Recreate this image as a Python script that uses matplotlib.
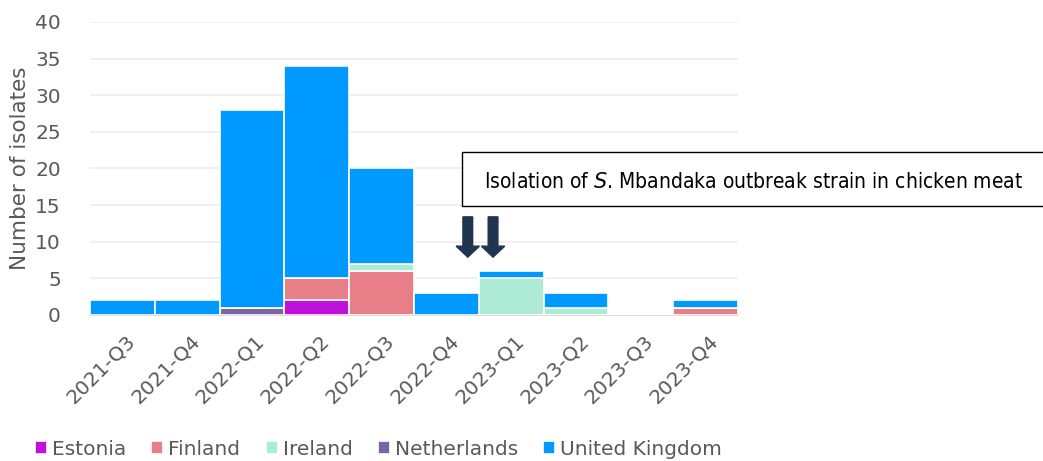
import numpy as np
import matplotlib
matplotlib.use("Agg")
import matplotlib.pyplot as plt
import matplotlib.transforms as mtransforms
from matplotlib.patches import FancyArrow, Rectangle

plt.rcParams['font.family'] = ['DejaVu Sans']

# Dati: isolati per trimestre e paese
quarters = ['2021-Q3', '2021-Q4', '2022-Q1', '2022-Q2', '2022-Q3',
            '2022-Q4', '2023-Q1', '2023-Q2', '2023-Q3', '2023-Q4']
estonia = [0, 0, 0, 2, 0, 0, 0, 0, 0, 0]
finland = [0, 0, 0, 3, 6, 0, 0, 0, 0, 1]
ireland = [0, 0, 0, 0, 1, 0, 5, 1, 0, 0]
netherlands = [0, 0, 1, 0, 0, 0, 0, 0, 0, 0]
united_kingdom = [2, 2, 27, 29, 13, 3, 1, 2, 0, 1]

series = [('Estonia', estonia, '#BF10DC'),
          ('Finland', finland, '#E87E88'),
          ('Ireland', ireland, '#AEEBD4'),
          ('Netherlands', netherlands, '#8064A2'),
          ('United Kingdom', united_kingdom, '#0099FF')]

# Ordine di impilamento (dal basso)
stack_order = ['Netherlands', 'Estonia', 'Finland', 'Ireland', 'United Kingdom']

W, H = 1043, 461
fig = plt.figure(figsize=(W / 100, H / 100), dpi=100)
ax = fig.add_axes([90 / W, 1 - 315 / H, 648 / W, 293 / H])

x = np.arange(len(quarters))
bottom = np.zeros(len(quarters))
lookup = {name: (vals, col) for name, vals, col in series}
handles = {}
for name in stack_order:
    vals, col = lookup[name]
    vals = np.array(vals, dtype=float)
    b = ax.bar(x, vals, width=1.0, bottom=bottom, color=col,
               edgecolor='white', linewidth=1.2, label=name, zorder=3)
    handles[name] = b
    bottom += vals

ax.set_xlim(-0.5, len(quarters) - 0.5)
ax.set_ylim(0, 40)
ax.set_yticks(np.arange(0, 41, 5))
ax.yaxis.grid(True, color='#EDEDED', linewidth=1.2, zorder=0)
ax.set_axisbelow(True)
for s in ['top', 'right', 'left']:
    ax.spines[s].set_visible(False)
ax.spines['bottom'].set_color('#D9D9D9')
ax.spines['bottom'].set_linewidth(1.2)
ax.spines['bottom'].set_zorder(2)

ax.set_xticks(x)
ax.set_xticklabels(quarters, rotation=45, ha='right', rotation_mode='anchor',
                   fontsize=14.5, color='#595959')
ax.tick_params(axis='x', length=0, pad=12)
# piccolo spostamento a destra delle etichette
offset = mtransforms.ScaledTranslation(0.03, 0, fig.dpi_scale_trans)
for lab in ax.get_xticklabels():
    lab.set_transform(lab.get_transform() + offset)
ax.tick_params(axis='y', length=0, labelsize=14.5, labelcolor='#595959', pad=21)
ax.set_ylabel('Number of isolates', fontsize=15.5, color='#595959')
ax.yaxis.set_label_coords(-0.092, 0.5)

# Frecce e riquadro di annotazione
for xa in [5.33, 5.72]:
    arr = FancyArrow(xa, 13.4, 0, -5.5, width=0.15, head_width=0.36,
                     head_length=1.5, length_includes_head=True,
                     color='#1F3550', zorder=5, clip_on=False)
    ax.add_patch(arr)

fig.add_artist(Rectangle((462 / W, 1 - 206 / H), 600 / W, 54 / H,
                         transform=fig.transFigure, facecolor='white',
                         edgecolor='black', linewidth=1.0))
fig.text(484 / W, 1 - 182 / H,
         'Isolation of $\\it{S}$. Mbandaka outbreak strain in chicken meat',
         fontsize=15, color='black', va='center', ha='left',
         family='DejaVu Sans', fontstretch='condensed')

# Legenda
leg_handles = [handles[name] for name, _, _ in series]
leg_labels = [name for name, _, _ in series]
fig.legend(leg_handles, leg_labels, loc='lower left', bbox_to_anchor=(0.016, -0.034),
           ncol=5, frameon=False, fontsize=14.5, handlelength=0.6, handleheight=0.6,
           handletextpad=0.25, columnspacing=1.25, labelcolor='#595959')

plt.savefig('out.png', dpi=100)
plt.close()
